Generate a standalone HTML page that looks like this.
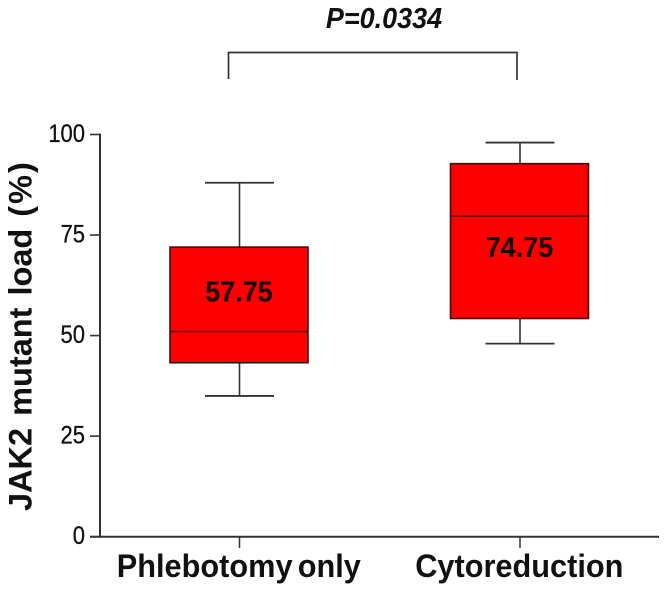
<!DOCTYPE html>
<html>
<head>
<meta charset="utf-8">
<title>JAK2 mutant load box plot</title>
<style>
html,body{margin:0;padding:0;background:#fff;}
svg{display:block;filter:blur(0.35px);}
text{font-family:"Liberation Sans",Arial,sans-serif;}
</style>
</head>
<body>
<svg id="chart" width="664" height="590" viewBox="0 0 664 590" xmlns="http://www.w3.org/2000/svg">
  <rect x="0" y="0" width="664" height="590" fill="#fff"/>
  <text transform="translate(384,28) scale(0.93,1)" text-anchor="middle" font-size="29" font-weight="bold" font-style="italic" fill="#111">P=0.0334</text>
  <path d="M228.5 79V52.5H517V80" fill="none" stroke="#333" stroke-width="1.7"/>
  <text transform="translate(31.5,511) rotate(-90)" font-size="32.5" font-weight="bold" word-spacing="3" fill="#111">JAK2 mutant load (<tspan dx="2">%</tspan><tspan dx="2">)</tspan></text>
  <g id="axes"></g>
  <g id="boxes"></g>
</svg>
<script>
const categories = ["Phlebotomy only", "Cytoreduction"];
const whiskerHigh = [88, 98];
const boxQ3 = [72, 92.75];
const medians = [51, 79.75];
const boxQ1 = [43.25, 54.25];
const whiskerLow = [35, 48];
const meanLabels = ["57.75", "74.75"];
const meanLabelLevels = [58.5, 69.5];
const yTicks = [0, 25, 50, 75, 100];

const NS = "http://www.w3.org/2000/svg";
const axesGroup = document.getElementById("axes");
const boxesGroup = document.getElementById("boxes");
const INK = "#333";

function yScale(v) { return 536.7 - 4.022 * v; }
function xScale(i) { return 239.5 + 280.5 * i; }

function make(parent, tag, attrs) {
  const el = document.createElementNS(NS, tag);
  for (const k in attrs) el.setAttribute(k, attrs[k]);
  parent.appendChild(el);
  return el;
}

const yAxis = make(axesGroup, "line", {x1: 100, x2: 100, y1: yScale(100) - 1, y2: yScale(0) + 1, stroke: INK, "stroke-width": 2});



const xAxis = make(axesGroup, "line", {x1: 90, x2: 659, y1: yScale(0), y2: yScale(0), stroke: INK, "stroke-width": 2});



yTicks.forEach(function (t) {
  const y = yScale(t);
  const tick = make(axesGroup, "line", {x1: 90, x2: 100, y1: y, y2: y, stroke: INK, "stroke-width": 1.6});
  
  
  const label = make(axesGroup, "text", {transform: "translate(85," + (y + 7.5) + ") scale(0.88,1)", "text-anchor": "end", "font-size": 25, fill: "#111", stroke: "#111", "stroke-width": 0.3});
  label.textContent = String(t);
  
  
});

categories.forEach(function (name, i) {
  const cx = xScale(i);
  const tick = make(axesGroup, "line", {x1: cx, x2: cx, y1: yScale(0), y2: 548, stroke: INK, "stroke-width": 1.5});
  
  
  const label = make(axesGroup, "text", {transform: "translate(" + (cx - 0.7) + ",577) scale(0.96,1)", "text-anchor": "middle", "font-size": 32, "font-weight": "bold", "word-spacing": -3.5, fill: "#111"});
  label.textContent = name;
  
  

  const halfBox = 69;
  const halfCap = 34.5;
  const whiskerUp = make(boxesGroup, "line", {x1: cx, x2: cx, y1: yScale(whiskerHigh[i]), y2: yScale(boxQ3[i]), stroke: INK, "stroke-width": 1.6});
  
  
  const whiskerDown = make(boxesGroup, "line", {x1: cx, x2: cx, y1: yScale(boxQ1[i]), y2: yScale(whiskerLow[i]), stroke: INK, "stroke-width": 1.6});
  
  
  const capUp = make(boxesGroup, "line", {x1: cx - halfCap, x2: cx + halfCap, y1: yScale(whiskerHigh[i]), y2: yScale(whiskerHigh[i]), stroke: INK, "stroke-width": 1.8});
  
  
  const capDown = make(boxesGroup, "line", {x1: cx - halfCap, x2: cx + halfCap, y1: yScale(whiskerLow[i]), y2: yScale(whiskerLow[i]), stroke: INK, "stroke-width": 1.8});
  
  
  const box = make(boxesGroup, "rect", {x: cx - halfBox - 0.5, y: yScale(boxQ3[i]), width: 2 * halfBox, height: yScale(boxQ1[i]) - yScale(boxQ3[i]), fill: "#ff0000", stroke: "#3a1010", "stroke-width": 1.6});
  
  
  const median = make(boxesGroup, "line", {x1: cx - halfBox - 0.5, x2: cx + halfBox - 0.5, y1: yScale(medians[i]), y2: yScale(medians[i]), stroke: "#5a0a0a", "stroke-width": 1.6});
  
  
  const mean = make(boxesGroup, "text", {transform: "translate(" + (cx - 0.5) + "," + yScale(meanLabelLevels[i]) + ") scale(0.93,1)", "text-anchor": "middle", "font-size": 29, "font-weight": "bold", fill: "#160000"});
  mean.textContent = meanLabels[i];
  
  
});
</script>
</body>
</html>
